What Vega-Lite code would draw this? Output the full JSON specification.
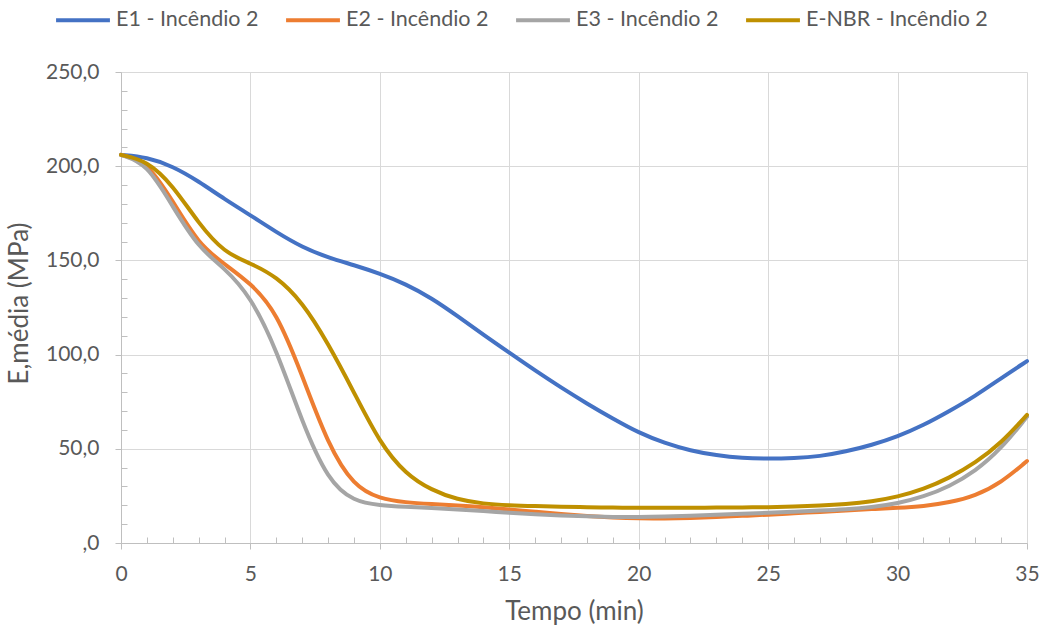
{
  "$schema": "https://vega.github.io/schema/vega-lite/v6.json",
  "width": 906,
  "height": 471,
  "autosize": {"type": "none"},
  "padding": {"left": 121, "top": 72, "right": 15, "bottom": 85},
  "background": "white",
  "config": {
    "view": {"stroke": null},
    "font": "Lato",
    "text": {"font": "Lato"}
  },
  "datasets": {
    "raw": [
      {"serie": "E1 - Incêndio 2", "t": 0, "e": 206},
      {"serie": "E1 - Incêndio 2", "t": 1, "e": 204.8},
      {"serie": "E1 - Incêndio 2", "t": 2, "e": 200},
      {"serie": "E1 - Incêndio 2", "t": 3, "e": 192},
      {"serie": "E1 - Incêndio 2", "t": 4, "e": 182.5},
      {"serie": "E1 - Incêndio 2", "t": 5, "e": 174},
      {"serie": "E1 - Incêndio 2", "t": 6, "e": 165},
      {"serie": "E1 - Incêndio 2", "t": 7, "e": 157},
      {"serie": "E1 - Incêndio 2", "t": 8, "e": 151.5},
      {"serie": "E1 - Incêndio 2", "t": 9, "e": 147.5},
      {"serie": "E1 - Incêndio 2", "t": 10, "e": 143},
      {"serie": "E1 - Incêndio 2", "t": 11, "e": 137.5},
      {"serie": "E1 - Incêndio 2", "t": 12, "e": 130},
      {"serie": "E1 - Incêndio 2", "t": 13, "e": 120.5},
      {"serie": "E1 - Incêndio 2", "t": 14, "e": 110.5},
      {"serie": "E1 - Incêndio 2", "t": 15, "e": 101},
      {"serie": "E1 - Incêndio 2", "t": 16, "e": 91.5},
      {"serie": "E1 - Incêndio 2", "t": 17, "e": 82.5},
      {"serie": "E1 - Incêndio 2", "t": 18, "e": 74},
      {"serie": "E1 - Incêndio 2", "t": 19, "e": 66},
      {"serie": "E1 - Incêndio 2", "t": 20, "e": 58.5},
      {"serie": "E1 - Incêndio 2", "t": 21, "e": 53},
      {"serie": "E1 - Incêndio 2", "t": 22, "e": 49},
      {"serie": "E1 - Incêndio 2", "t": 23, "e": 46.5},
      {"serie": "E1 - Incêndio 2", "t": 24, "e": 45},
      {"serie": "E1 - Incêndio 2", "t": 25, "e": 44.7},
      {"serie": "E1 - Incêndio 2", "t": 26, "e": 45},
      {"serie": "E1 - Incêndio 2", "t": 27, "e": 46},
      {"serie": "E1 - Incêndio 2", "t": 28, "e": 48.5},
      {"serie": "E1 - Incêndio 2", "t": 29, "e": 52},
      {"serie": "E1 - Incêndio 2", "t": 30, "e": 56.5},
      {"serie": "E1 - Incêndio 2", "t": 31, "e": 62.5},
      {"serie": "E1 - Incêndio 2", "t": 32, "e": 70},
      {"serie": "E1 - Incêndio 2", "t": 33, "e": 78},
      {"serie": "E1 - Incêndio 2", "t": 34, "e": 87.5},
      {"serie": "E1 - Incêndio 2", "t": 35, "e": 96.5},

      {"serie": "E2 - Incêndio 2", "t": 0, "e": 206},
      {"serie": "E2 - Incêndio 2", "t": 1, "e": 202.5},
      {"serie": "E2 - Incêndio 2", "t": 2, "e": 181.5},
      {"serie": "E2 - Incêndio 2", "t": 3, "e": 158.5},
      {"serie": "E2 - Incêndio 2", "t": 4, "e": 148},
      {"serie": "E2 - Incêndio 2", "t": 5, "e": 138},
      {"serie": "E2 - Incêndio 2", "t": 6, "e": 123},
      {"serie": "E2 - Incêndio 2", "t": 7, "e": 89},
      {"serie": "E2 - Incêndio 2", "t": 8, "e": 52},
      {"serie": "E2 - Incêndio 2", "t": 9, "e": 30},
      {"serie": "E2 - Incêndio 2", "t": 10, "e": 23.5},
      {"serie": "E2 - Incêndio 2", "t": 11, "e": 21.5},
      {"serie": "E2 - Incêndio 2", "t": 12, "e": 20.7},
      {"serie": "E2 - Incêndio 2", "t": 13, "e": 20},
      {"serie": "E2 - Incêndio 2", "t": 14, "e": 19},
      {"serie": "E2 - Incêndio 2", "t": 15, "e": 17.8},
      {"serie": "E2 - Incêndio 2", "t": 16, "e": 16.6},
      {"serie": "E2 - Incêndio 2", "t": 17, "e": 15.4},
      {"serie": "E2 - Incêndio 2", "t": 18, "e": 14.3},
      {"serie": "E2 - Incêndio 2", "t": 19, "e": 13.5},
      {"serie": "E2 - Incêndio 2", "t": 20, "e": 13},
      {"serie": "E2 - Incêndio 2", "t": 21, "e": 13},
      {"serie": "E2 - Incêndio 2", "t": 22, "e": 13.3},
      {"serie": "E2 - Incêndio 2", "t": 23, "e": 13.8},
      {"serie": "E2 - Incêndio 2", "t": 24, "e": 14.4},
      {"serie": "E2 - Incêndio 2", "t": 25, "e": 15},
      {"serie": "E2 - Incêndio 2", "t": 26, "e": 15.8},
      {"serie": "E2 - Incêndio 2", "t": 27, "e": 16.5},
      {"serie": "E2 - Incêndio 2", "t": 28, "e": 17.3},
      {"serie": "E2 - Incêndio 2", "t": 29, "e": 18},
      {"serie": "E2 - Incêndio 2", "t": 30, "e": 18.6},
      {"serie": "E2 - Incêndio 2", "t": 31, "e": 19.5},
      {"serie": "E2 - Incêndio 2", "t": 32, "e": 21.5},
      {"serie": "E2 - Incêndio 2", "t": 33, "e": 25},
      {"serie": "E2 - Incêndio 2", "t": 34, "e": 32},
      {"serie": "E2 - Incêndio 2", "t": 35, "e": 43.5},

      {"serie": "E3 - Incêndio 2", "t": 0, "e": 206},
      {"serie": "E3 - Incêndio 2", "t": 1, "e": 201.5},
      {"serie": "E3 - Incêndio 2", "t": 2, "e": 178.5},
      {"serie": "E3 - Incêndio 2", "t": 3, "e": 156.5},
      {"serie": "E3 - Incêndio 2", "t": 4, "e": 146},
      {"serie": "E3 - Incêndio 2", "t": 5, "e": 131},
      {"serie": "E3 - Incêndio 2", "t": 6, "e": 103},
      {"serie": "E3 - Incêndio 2", "t": 7, "e": 64},
      {"serie": "E3 - Incêndio 2", "t": 8, "e": 33},
      {"serie": "E3 - Incêndio 2", "t": 9, "e": 22},
      {"serie": "E3 - Incêndio 2", "t": 10, "e": 20},
      {"serie": "E3 - Incêndio 2", "t": 11, "e": 19.2},
      {"serie": "E3 - Incêndio 2", "t": 12, "e": 18.6},
      {"serie": "E3 - Incêndio 2", "t": 13, "e": 17.8},
      {"serie": "E3 - Incêndio 2", "t": 14, "e": 17},
      {"serie": "E3 - Incêndio 2", "t": 15, "e": 16},
      {"serie": "E3 - Incêndio 2", "t": 16, "e": 15.2},
      {"serie": "E3 - Incêndio 2", "t": 17, "e": 14.6},
      {"serie": "E3 - Incêndio 2", "t": 18, "e": 14.1},
      {"serie": "E3 - Incêndio 2", "t": 19, "e": 13.8},
      {"serie": "E3 - Incêndio 2", "t": 20, "e": 13.7},
      {"serie": "E3 - Incêndio 2", "t": 21, "e": 14},
      {"serie": "E3 - Incêndio 2", "t": 22, "e": 14.5},
      {"serie": "E3 - Incêndio 2", "t": 23, "e": 15},
      {"serie": "E3 - Incêndio 2", "t": 24, "e": 15.5},
      {"serie": "E3 - Incêndio 2", "t": 25, "e": 16},
      {"serie": "E3 - Incêndio 2", "t": 26, "e": 16.6},
      {"serie": "E3 - Incêndio 2", "t": 27, "e": 17.2},
      {"serie": "E3 - Incêndio 2", "t": 28, "e": 17.9},
      {"serie": "E3 - Incêndio 2", "t": 29, "e": 19},
      {"serie": "E3 - Incêndio 2", "t": 30, "e": 21},
      {"serie": "E3 - Incêndio 2", "t": 31, "e": 24.5},
      {"serie": "E3 - Incêndio 2", "t": 32, "e": 30},
      {"serie": "E3 - Incêndio 2", "t": 33, "e": 38},
      {"serie": "E3 - Incêndio 2", "t": 34, "e": 50},
      {"serie": "E3 - Incêndio 2", "t": 35, "e": 67},

      {"serie": "E-NBR - Incêndio 2", "t": 0, "e": 206},
      {"serie": "E-NBR - Incêndio 2", "t": 1, "e": 203},
      {"serie": "E-NBR - Incêndio 2", "t": 2, "e": 190},
      {"serie": "E-NBR - Incêndio 2", "t": 3, "e": 169.5},
      {"serie": "E-NBR - Incêndio 2", "t": 4, "e": 154},
      {"serie": "E-NBR - Incêndio 2", "t": 5, "e": 148.5},
      {"serie": "E-NBR - Incêndio 2", "t": 6, "e": 141.5},
      {"serie": "E-NBR - Incêndio 2", "t": 7, "e": 128},
      {"serie": "E-NBR - Incêndio 2", "t": 8, "e": 106},
      {"serie": "E-NBR - Incêndio 2", "t": 9, "e": 80},
      {"serie": "E-NBR - Incêndio 2", "t": 10, "e": 53},
      {"serie": "E-NBR - Incêndio 2", "t": 11, "e": 36.5},
      {"serie": "E-NBR - Incêndio 2", "t": 12, "e": 28},
      {"serie": "E-NBR - Incêndio 2", "t": 13, "e": 23},
      {"serie": "E-NBR - Incêndio 2", "t": 14, "e": 20.8},
      {"serie": "E-NBR - Incêndio 2", "t": 15, "e": 20},
      {"serie": "E-NBR - Incêndio 2", "t": 16, "e": 19.6},
      {"serie": "E-NBR - Incêndio 2", "t": 17, "e": 19.3},
      {"serie": "E-NBR - Incêndio 2", "t": 18, "e": 19},
      {"serie": "E-NBR - Incêndio 2", "t": 19, "e": 18.8},
      {"serie": "E-NBR - Incêndio 2", "t": 20, "e": 18.7},
      {"serie": "E-NBR - Incêndio 2", "t": 21, "e": 18.7},
      {"serie": "E-NBR - Incêndio 2", "t": 22, "e": 18.7},
      {"serie": "E-NBR - Incêndio 2", "t": 23, "e": 18.8},
      {"serie": "E-NBR - Incêndio 2", "t": 24, "e": 18.9},
      {"serie": "E-NBR - Incêndio 2", "t": 25, "e": 19},
      {"serie": "E-NBR - Incêndio 2", "t": 26, "e": 19.3},
      {"serie": "E-NBR - Incêndio 2", "t": 27, "e": 19.8},
      {"serie": "E-NBR - Incêndio 2", "t": 28, "e": 20.6},
      {"serie": "E-NBR - Incêndio 2", "t": 29, "e": 22},
      {"serie": "E-NBR - Incêndio 2", "t": 30, "e": 24.5},
      {"serie": "E-NBR - Incêndio 2", "t": 31, "e": 28.5},
      {"serie": "E-NBR - Incêndio 2", "t": 32, "e": 34.5},
      {"serie": "E-NBR - Incêndio 2", "t": 33, "e": 42.5},
      {"serie": "E-NBR - Incêndio 2", "t": 34, "e": 53},
      {"serie": "E-NBR - Incêndio 2", "t": 35, "e": 68}
    ]
  },
  "data": {"name": "raw"},
  "mark": {"type": "line", "interpolate": "basis", "strokeWidth": 4, "strokeCap": "round", "strokeJoin": "round"},
  "encoding": {
    "x": {
      "field": "t",
      "type": "quantitative",
      "scale": {"domain": [0, 35], "nice": false, "zero": false},
      "axis": {
        "title": "Tempo (min)",
        "values": [0,1,2,3,4,5,6,7,8,9,10,11,12,13,14,15,16,17,18,19,20,21,22,23,24,25,26,27,28,29,30,31,32,33,34,35],
        "labelExpr": "datum.value % 5 === 0 ? datum.label : ''",
        "format": "d",
        "labelFont": "Lato",
        "labelFontSize": 21,
        "labelColor": "#595959",
        "labelPadding": 14,
        "labelFlush": false,
        "labelOverlap": false,
        "domainColor": "#BFBFBF",
        "domainWidth": 1,
        "tickColor": "#BFBFBF",
        "tickSize": {"condition": {"test": "datum.value % 5 === 0", "value": 6}, "value": -6},
        "grid": true,
        "gridColor": "#D9D9D9",
        "gridWidth": 1,
        "gridOpacity": {"condition": {"test": "datum.value % 5 === 0", "value": 1}, "value": 0},
        "titleFont": "Lato",
        "titleFontSize": 26,
        "titleFontWeight": "normal",
        "titleColor": "#595959",
        "titleX": 453,
        "titleY": 76,
        "titleAlign": "center",
        "titleBaseline": "alphabetic"
      }
    },
    "y": {
      "field": "e",
      "type": "quantitative",
      "scale": {"domain": [0, 250], "nice": false},
      "axis": {
        "title": "E,média (MPa)",
        "values": [0,10,20,30,40,50,60,70,80,90,100,110,120,130,140,150,160,170,180,190,200,210,220,230,240,250],
        "labelExpr": "datum.value % 50 === 0 ? (datum.value === 0 ? ',0' : replace(format(datum.value, '.1f'), '.', ',')) : ''",
        "labelFont": "Lato",
        "labelFontSize": 21,
        "labelColor": "#595959",
        "labelPadding": 16,
        "labelOverlap": false,
        "labelFlush": false,
        "domainColor": "#BFBFBF",
        "domainWidth": 1,
        "tickColor": "#BFBFBF",
        "tickSize": {"condition": {"test": "datum.value % 50 === 0", "value": 6}, "value": -6},
        "grid": true,
        "gridColor": "#D9D9D9",
        "gridWidth": 1,
        "gridOpacity": {"condition": {"test": "datum.value % 50 === 0", "value": 1}, "value": 0},
        "titleFont": "Lato",
        "titleFontSize": 26,
        "titleFontWeight": "normal",
        "titleColor": "#595959",
        "titleAngle": -90,
        "titleX": -94,
        "titleY": 231,
        "titleAlign": "center",
        "titleBaseline": "alphabetic"
      }
    },
    "color": {
      "field": "serie",
      "type": "nominal",
      "sort": ["E1 - Incêndio 2", "E2 - Incêndio 2", "E3 - Incêndio 2", "E-NBR - Incêndio 2"],
      "scale": {
        "domain": ["E1 - Incêndio 2", "E2 - Incêndio 2", "E3 - Incêndio 2", "E-NBR - Incêndio 2"],
        "range": ["#4472C4", "#ED7D31", "#A5A5A5", "#BF9000"]
      },
      "legend": {
        "title": null,
        "orient": "none",
        "direction": "horizontal",
        "columns": 4,
        "legendX": -67,
        "legendY": -81,
        "symbolType": "stroke",
        "symbolSize": 2900,
        "symbolStrokeWidth": 4,
        "labelFont": "Lato",
        "labelFontSize": 21.5,
        "labelColor": "#595959",
        "labelOffset": 4,
        "columnPadding": 19,
        "labelLimit": 300
      }
    }
  }
}
